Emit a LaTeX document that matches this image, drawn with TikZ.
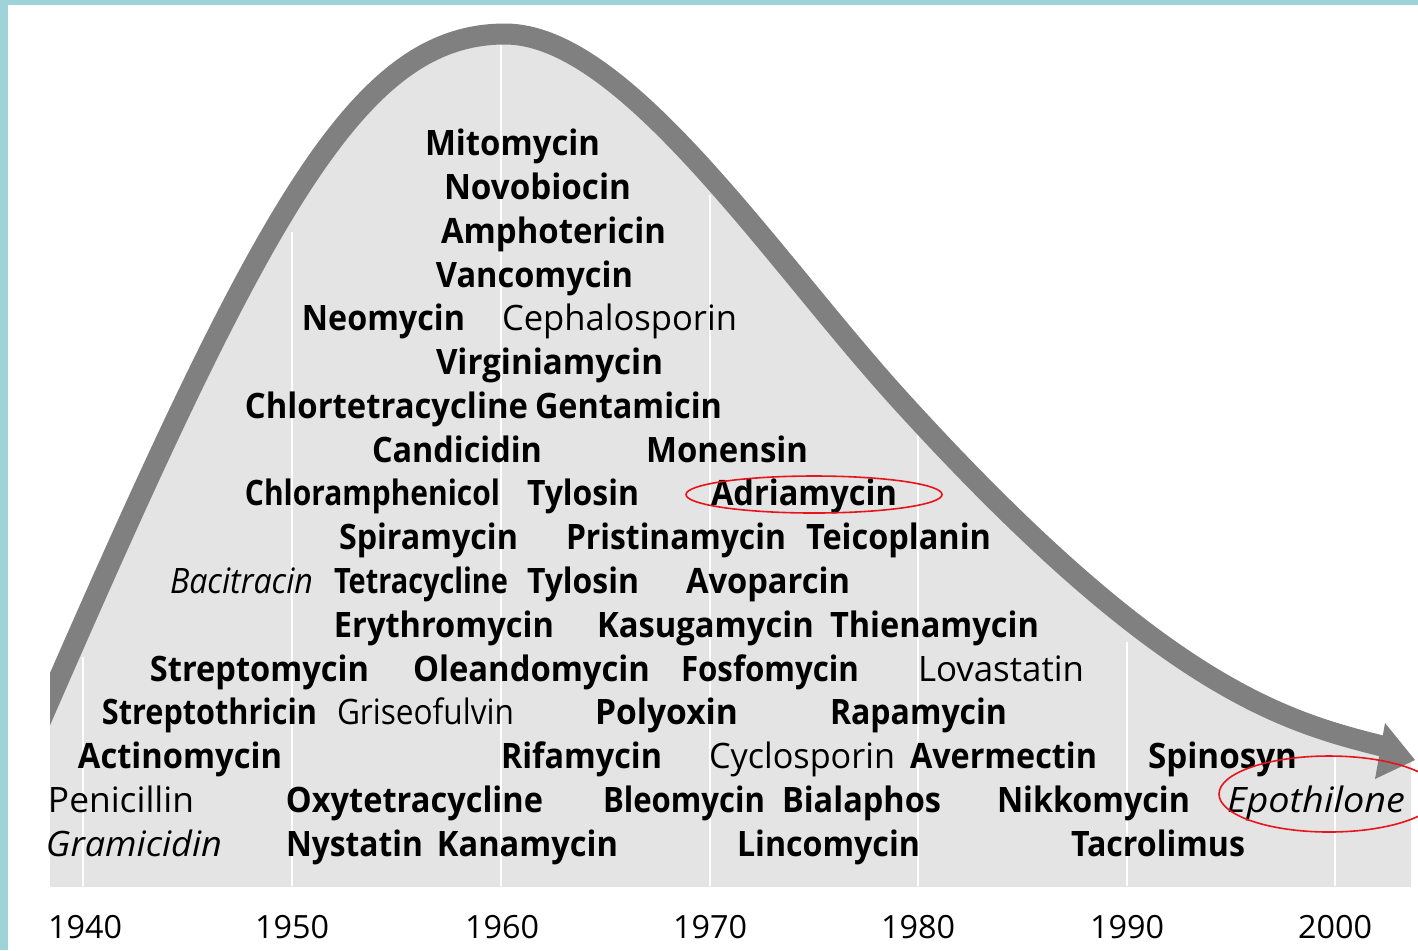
\documentclass[tikz,border=0pt]{standalone}
\usepackage{fontspec}
\usepackage{graphicx}
\setmainfont{Open Sans}
\definecolor{frame}{HTML}{9ED4D9}
\definecolor{fillgray}{HTML}{E4E4E4}
\definecolor{curvegray}{HTML}{808080}
\definecolor{ringred}{HTML}{E8141A}
\newcommand{\lw}[2]{\resizebox{#1pt}{\height}{#2}}
\begin{document}
\begin{tikzpicture}[x=0.5pt,y=-0.5pt,
  bl/.style={font=\fontsize{17.5}{20}\selectfont\bfseries, anchor=base, inner sep=0pt},
  rg/.style={font=\fontsize{17.5}{20}\selectfont, anchor=base, inner sep=0pt},
  it/.style={font=\fontsize{17.5}{20}\selectfont\itshape, anchor=base, inner sep=0pt},
  yr/.style={font=\fontsize{16}{20}\selectfont, anchor=base, inner sep=0pt},
  ring/.style={draw=ringred, line width=0.8pt},
  decade/.style={draw=white, line width=1pt},
  trend/.style={draw=curvegray, line width=10.5pt}]
\useasboundingbox (0,0) rectangle (1418,950);
\fill[white] (0,0) rectangle (1418,950);
% gray area under the curve
\begin{scope}
\clip (50,0) rectangle (1411,886);
\fill[fillgray] (30,900) -- (30,745) .. controls (260,216) and (355,34) .. (505,34)
  .. controls (625,34) and (770,257) .. (900,400)
  .. controls (1160,686) and (1282,721) .. (1382,746) -- (1411,760) -- (1411,900) -- cycle;
\end{scope}
% decade lines
\foreach \x/\y in {83/657,292/232,501/45,710/195,918/433,1127/642,1335/755}
  \draw[decade] (\x,\y) -- (\x,886);
% trend curve with arrow
\begin{scope}
\clip (50,0) rectangle (1418,950);
\draw[trend] (30,745) .. controls (260,216) and (355,34) .. (505,34)
  .. controls (625,34) and (770,257) .. (900,400)
  .. controls (1160,686) and (1282,721) .. (1382,746);
\end{scope}
\fill[curvegray] (1385,723) -- (1415,760) -- (1375,779) -- cycle;
% frame
\fill[frame] (0,0) rectangle (8,950);
\fill[frame] (0,0) rectangle (1418,5);
% labels
\node[bl] (mito) at (512.5,155) {\lw{87.5}{Mitomycin}};
\node[bl] (novo) at (537.5,199) {\lw{93.5}{Novobiocin}};
\node[bl] (ampho) at (553.5,243) {\lw{112.5}{Amphotericin}};
\node[bl] (vanco) at (534.5,287) {\lw{98.5}{Vancomycin}};
\node[bl] (neo) at (383.5,330) {\lw{81.5}{Neomycin}};
\node[rg] (cepha) at (619.5,330) {\lw{117.5}{Cephalosporin}};
\node[bl] (virg) at (549.5,374) {\lw{113.5}{Virginiamycin}};
\node[bl] (chlort) at (386.5,418) {\lw{141.5}{Chlortetracycline}};
\node[bl] (genta) at (628.5,418) {\lw{93.5}{Gentamicin}};
\node[bl] (candi) at (457,462) {\lw{85}{Candicidin}};
\node[bl] (monen) at (727,462) {\lw{81}{Monensin}};
\node[bl] (chloram) at (372.5,505) {\lw{127.5}{Chloramphenicol}};
\node[bl] (tylA) at (583,505) {\lw{56}{Tylosin}};
\node[bl] (adria) at (804,505) {\lw{93}{Adriamycin}};
\node[bl] (spira) at (428.5,549) {\lw{89.5}{Spiramycin}};
\node[bl] (prist) at (676,549) {\lw{110}{Pristinamycin}};
\node[bl] (teico) at (898.5,549) {\lw{92.5}{Teicoplanin}};
\node[it] (baci) at (241.5,593) {\lw{71.5}{Bacitracin}};
\node[bl] (tetra) at (421,593) {\lw{87}{Tetracycline}};
\node[bl] (tylB) at (583,593) {\lw{56}{Tylosin}};
\node[bl] (avopa) at (768,593) {\lw{82}{Avoparcin}};
\node[bl] (erythro) at (444,637) {\lw{110}{Erythromycin}};
\node[bl] (kasu) at (705.5,637) {\lw{108.5}{Kasugamycin}};
\node[bl] (thiena) at (934.5,637) {\lw{104.5}{Thienamycin}};
\node[bl] (strepto) at (259.5,681) {\lw{109.5}{Streptomycin}};
\node[bl] (olea) at (531.5,681) {\lw{118.5}{Oleandomycin}};
\node[bl] (fosfo) at (770,681) {\lw{89}{Fosfomycin}};
\node[rg] (lova) at (1001,681) {\lw{83}{Lovastatin}};
\node[bl] (streptoth) at (209.5,724) {\lw{107.5}{Streptothricin}};
\node[rg] (grise) at (425.5,724) {\lw{88.5}{Griseofulvin}};
\node[bl] (polyo) at (666.5,724) {\lw{71.5}{Polyoxin}};
\node[bl] (rapa) at (918.5,724) {\lw{88.5}{Rapamycin}};
\node[bl] (actino) at (180,768) {\lw{102}{Actinomycin}};
\node[bl] (rifa) at (581.5,768) {\lw{80.5}{Rifamycin}};
\node[rg] (cyclo) at (802,768) {\lw{93}{Cyclosporin}};
\node[bl] (averm) at (1003.5,768) {\lw{93.5}{Avermectin}};
\node[bl] (spino) at (1222.5,768) {\lw{74.5}{Spinosyn}};
\node[rg] (peni) at (121,812) {\lw{73}{Penicillin}};
\node[bl] (oxyt) at (414.5,812) {\lw{128.5}{Oxytetracycline}};
\node[bl] (bleo) at (684,812) {\lw{81}{Bleomycin}};
\node[bl] (biala) at (861.5,812) {\lw{79.5}{Bialaphos}};
\node[bl] (nikko) at (1093.5,812) {\lw{96.5}{Nikkomycin}};
\node[it] (epoth) at (1316,812) {\lw{89}{Epothilone}};
\node[it] (grami) at (134,856) {\lw{88}{Gramicidin}};
\node[bl] (nysta) at (354.5,856) {\lw{68.5}{Nystatin}};
\node[bl] (kana) at (527.5,856) {\lw{90.5}{Kanamycin}};
\node[bl] (linco) at (828.5,856) {\lw{91.5}{Lincomycin}};
\node[bl] (tacro) at (1158,856) {\lw{87}{Tacrolimus}};
% years
\node[yr] (y40) at (85,938) {\lw{37}{1940}};
\node[yr] (y50) at (292,938) {\lw{37}{1950}};
\node[yr] (y60) at (502,938) {\lw{37}{1960}};
\node[yr] (y70) at (710,938) {\lw{37}{1970}};
\node[yr] (y80) at (918,938) {\lw{37}{1980}};
\node[yr] (y90) at (1127,938) {\lw{37}{1990}};
\node[yr] (y00) at (1335,938) {\lw{37}{2000}};
% highlight rings
\draw[ring] (814,494.5) ellipse [x radius=64pt, y radius=9.25pt];
\draw[ring] (1329,794) ellipse [x radius=55pt, y radius=19pt];
\end{tikzpicture}
\end{document}
